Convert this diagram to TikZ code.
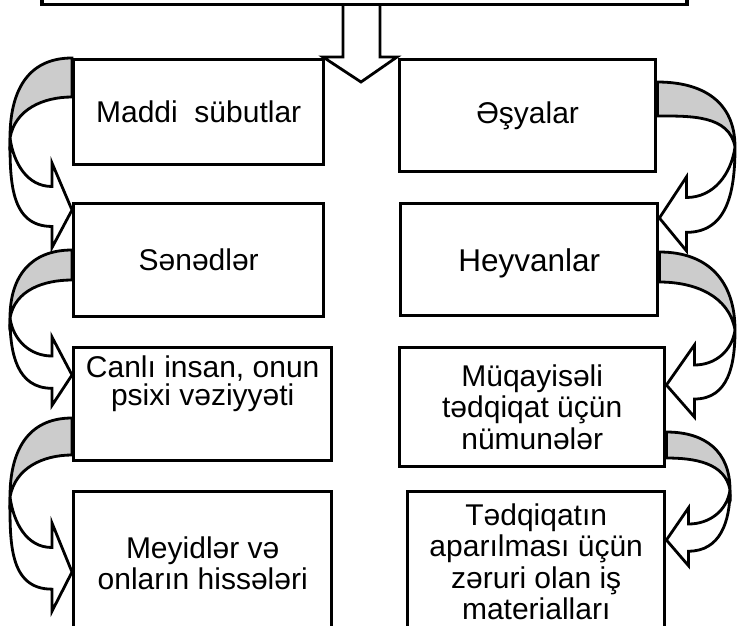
\documentclass[tikz,border=0pt]{standalone}
\usepackage{fontspec}
\setmainfont{Liberation Sans}
\usetikzlibrary{calc}

\definecolor{bandgray}{RGB}{204,204,204}

\tikzset{
  box/.style={draw, line width=3.4pt, fill=white, anchor=north west, align=center, inner sep=0pt},
  band/.style={draw, line width=2.8pt, line join=miter},
}

%% curved block arrow: side (-1 left, 1 right), band start on box (outer, inner),
%% turning point, tip, head size, head length
\newcommand{\bendarrow}[7]{%
  \coordinate (tip) at #5;
  \draw[band, fill=bandgray] #2 to[out=90-90*(#1), in=90, looseness=1.15] #4
    to[out=90+10*(#1), in=90-90*(#1)] #3 -- cycle;
  \draw[band, fill=white] #4 to[out=270-8*(#1), in=90-90*(#1)] ($(tip)+({#7*(#1)},{0.5*#6})$)
    -- ($(tip)+({#7*(#1)},{#6})$) -- (tip) -- ($(tip)+({#7*(#1)},{-0.8*#6})$)
    -- ($(tip)+({#7*(#1)},{-0.35*#6})$) to[out=90-90*(#1), in=270, looseness=1.1] #4 -- cycle;
}

\begin{document}
\begin{tikzpicture}[x=1pt, y=1pt, font=\fontsize{30}{31.5}\selectfont]
  \useasboundingbox (0,0) rectangle (738,-625);
  \clip (0,0) rectangle (738,-625);

  \node[box, anchor=south, minimum width=645pt, minimum height=80pt] (top) at (364.5,-6) {};

  %% left column
  \node[box, minimum width=250pt, minimum height=105pt] (sub) at (72,-58) {Maddi~ sübutlar};
  \node[box, minimum width=250pt, minimum height=113pt] (sen) at (72,-202) {Sənədlər};
  \node[box, minimum width=258pt, minimum height=113pt, text depth=48pt,
        font=\fontsize{30}{28}\selectfont] (can) at (72,-346) {Canlı insan, onun\\psixi vəziyyəti};
  \node[box, minimum width=258pt, minimum height=143pt] (mey) at (72,-490) {Meyidlər və\\onların hissələri};

  %% right column
  \node[box, minimum width=256pt, minimum height=112pt] (esy) at (398,-58) {Əşyalar};
  \node[box, minimum width=257pt, minimum height=112pt, text depth=0pt,
        font=\fontsize{31.5}{33}\selectfont] (hey) at (399,-202) {Heyvanlar};
  \node[box, minimum width=265pt, minimum height=119pt] (muq) at (398,-346) {Müqayisəli\\tədqiqat üçün\\nümunələr};
  \node[box, minimum width=257pt, minimum height=140pt] (ted) at (406,-490) {Tədqiqatın\\aparılması üçün\\zəruri olan iş\\materialları};

  %% arrow down from the top box
  \draw[band] (top.south -| 343,0) -- (343,-57) -- (323,-57) -- (361,-82)
    -- (397,-57) -- (380,-57) -- (top.south -| 380,0);

  %% curved arrows
  \bendarrow{-1}{(sub.north west)}{(sub.west |- 0,-97)}{(10,-138)}{(sen.west |- 0,-210)}{47}{20}
  \bendarrow{-1}{(sen.west |- 0,-250)}{(sen.west |- 0,-280)}{(10,-318)}{(can.west |- 0,-375)}{38}{20}
  \bendarrow{-1}{(can.west |- 0,-418)}{(can.west |- 0,-455)}{(10,-497)}{(mey.west |- 0,-572)}{49}{20}
  \bendarrow{1}{(esy.east |- 0,-82)}{(esy.east |- 0,-116)}{(735,-147)}{(hey.east |- 0,-218)}{41}{27}
  \bendarrow{1}{(hey.east |- 0,-252)}{(hey.east |- 0,-282)}{(735,-330)}{(muq.east |- 0,-385)}{40}{28}
  \bendarrow{1}{(muq.east |- 0,-432)}{(muq.east |- 0,-458)}{(730,-490)}{(ted.east |- 0,-540)}{32}{22}
\end{tikzpicture}
\end{document}
